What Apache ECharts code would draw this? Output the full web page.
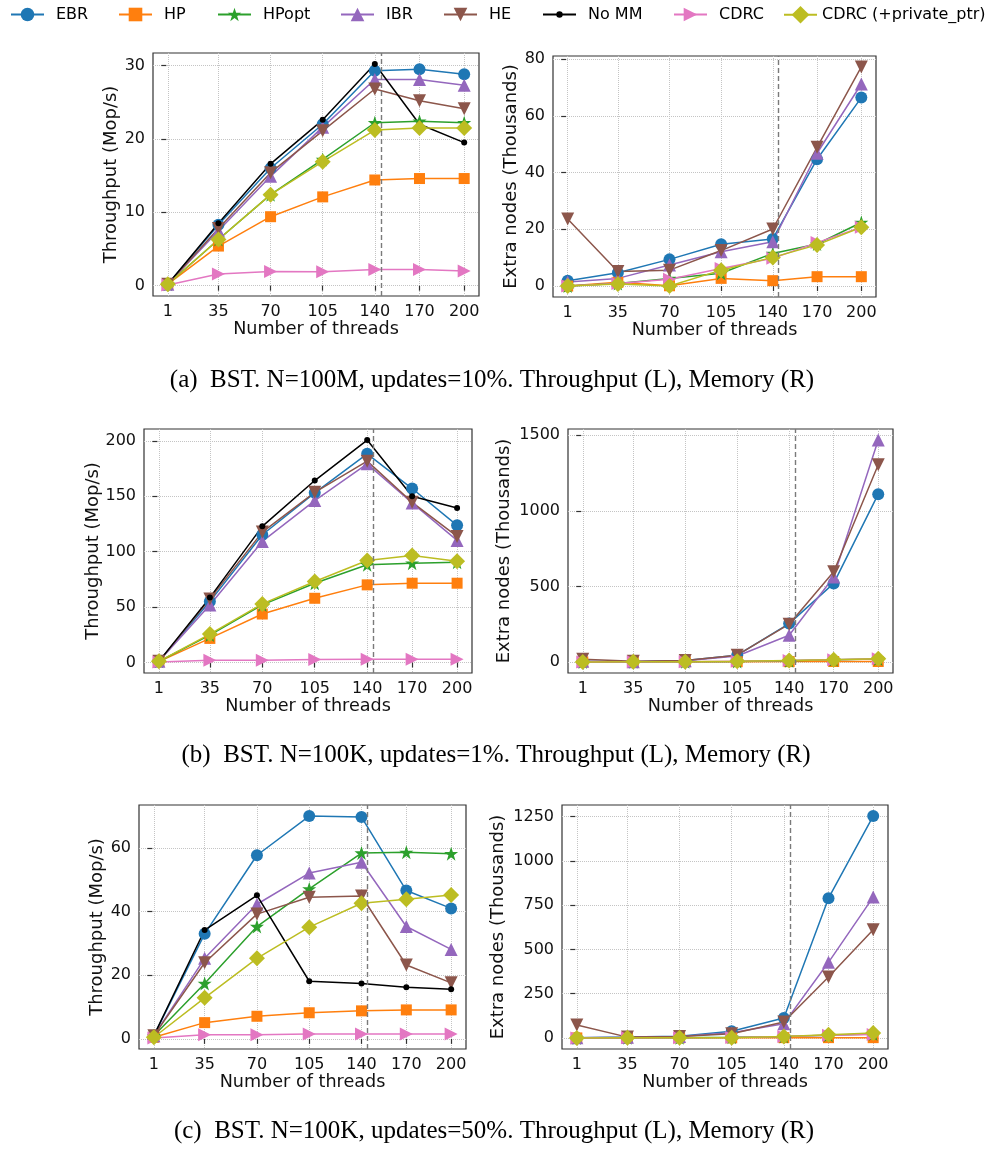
<!DOCTYPE html>
<html>
<head>
<meta charset="utf-8">
<script src="https://cdn.jsdelivr.net/npm/echarts@6/dist/echarts.min.js"></script>
<style>
html, body { margin: 0; padding: 0; background: #ffffff; }
#chart { width: 985px; height: 1149px; }
</style>
</head>
<body>
<div id="chart"></div>
<script>
// ---- data ----
const threads = [1, 35, 70, 105, 140, 170, 200];
const coreMark = 144;
const schemes = ['EBR', 'HP', 'HPopt', 'IBR', 'HE', 'No MM', 'CDRC', 'CDRC (+private_ptr)'];

// (a) BST, N=100M, updates=10%
const tputA = {
  'EBR':   [0.2, 8.3, 16.0, 22.0, 29.3, 29.5, 28.8],
  'HP':    [0.2, 5.4, 9.4, 12.1, 14.4, 14.6, 14.6],
  'HPopt': [0.2, 6.3, 12.4, 17.2, 22.2, 22.4, 22.2],
  'IBR':   [0.2, 7.5, 14.9, 21.6, 28.1, 28.1, 27.3],
  'HE':    [0.2, 7.8, 15.4, 21.1, 26.8, 25.2, 24.1],
  'No MM': [0.2, 8.5, 16.6, 22.6, 30.2, 22.0, 19.5],
  'CDRC':  [0.1, 1.6, 1.95, 1.9, 2.2, 2.2, 2.0],
  'CDRC (+private_ptr)': [0.2, 6.3, 12.4, 16.9, 21.2, 21.5, 21.5]
};
const memA = {
  'EBR':   [1.9, 4.7, 9.4, 14.7, 16.6, 44.7, 66.4],
  'HP':    [0.0, 1.3, 0.1, 2.7, 1.9, 3.3, 3.3],
  'HPopt': [0.0, 0.9, 2.7, 4.5, 11.5, 14.8, 22.4],
  'IBR':   [1.4, 2.7, 7.4, 12.1, 15.6, 46.8, 71.2],
  'HE':    [23.6, 5.1, 5.6, 12.5, 20.1, 48.9, 77.2],
  'CDRC':  [0.0, 0.9, 2.4, 6.2, 9.8, 15.3, 20.7],
  'CDRC (+private_ptr)': [0.0, 0.7, 0.0, 5.6, 10.1, 14.5, 20.7]
};

// (b) BST, N=100K, updates=1%
const tputB = {
  'EBR':   [1.0, 54.9, 115.2, 153.0, 188.2, 156.9, 123.7],
  'HP':    [0.8, 21.7, 43.7, 57.9, 70.0, 71.5, 71.5],
  'HPopt': [1.0, 24.7, 51.9, 71.5, 88.1, 89.6, 90.5],
  'IBR':   [1.0, 51.9, 109.2, 146.0, 179.2, 143.9, 110.1],
  'HE':    [1.0, 57.3, 117.6, 153.5, 181.6, 144.5, 113.7],
  'No MM': [1.0, 58.5, 122.8, 164.1, 200.6, 149.9, 139.4],
  'CDRC':  [0.5, 2.1, 2.1, 2.7, 3.0, 3.0, 3.0],
  'CDRC (+private_ptr)': [1.0, 25.6, 52.8, 73.0, 92.0, 96.5, 91.4]
};
const memB = {
  'EBR':   [3, 1, 10, 45, 254, 520, 1110],
  'HP':    [0.5, 1, 1.5, 2, 2.5, 3, 3],
  'HPopt': [0.5, 1, 2, 4, 8, 14, 20],
  'IBR':   [5, 2, 8, 40, 177, 562, 1468],
  'HE':    [18, 5, 10, 45, 250, 597, 1305],
  'CDRC':  [0.5, 1, 2, 5, 9, 15, 21],
  'CDRC (+private_ptr)': [0.5, 1, 1.5, 5, 10, 15, 22]
};

// (c) BST, N=100K, updates=50%
const tputC = {
  'EBR':   [1.0, 33.0, 57.7, 70.0, 69.7, 46.6, 41.0],
  'HP':    [0.5, 5.1, 7.1, 8.2, 8.8, 9.1, 9.1],
  'HPopt': [1.0, 17.4, 35.3, 47.1, 58.4, 58.6, 58.2],
  'IBR':   [1.0, 25.3, 42.3, 52.1, 55.5, 35.3, 28.1],
  'HE':    [1.0, 23.9, 39.2, 44.5, 44.9, 23.2, 17.6],
  'No MM': [1.0, 34.2, 45.1, 18.1, 17.4, 16.2, 15.6],
  'CDRC':  [0.3, 1.3, 1.3, 1.5, 1.5, 1.5, 1.5],
  'CDRC (+private_ptr)': [0.5, 12.9, 25.3, 35.1, 42.6, 43.9, 45.2]
};
const memC = {
  'EBR':   [2, 5, 10, 38, 113, 789, 1252],
  'HP':    [0.5, 0.5, 1, 1, 2, 2, 2],
  'HPopt': [0.5, 1, 2, 4, 9, 16, 22],
  'IBR':   [2, 4, 8, 30, 81, 427, 795],
  'HE':    [73, 5, 8, 24, 90, 344, 611],
  'CDRC':  [0.5, 1, 2, 3, 8, 15, 20],
  'CDRC (+private_ptr)': [0.5, 1, 1.5, 2, 9, 19, 28]
};

const yTicksTputA = [0, 10, 20, 30];
const yTicksMemA = [0, 20, 40, 60, 80];
const yTicksTputB = [0, 50, 100, 150, 200];
const yTicksMemB = [0, 500, 1000, 1500];
const yTicksTputC = [0, 20, 40, 60];
const yTicksMemC = [0, 250, 500, 750, 1000, 1250];

const xName = 'Number of threads';
const tputName = 'Throughput (Mop/s)';
const memName = 'Extra nodes (Thousands)';
const captions = [
  '(a)  BST. N=100M, updates=10%. Throughput (L), Memory (R)',
  '(b)  BST. N=100K, updates=1%. Throughput (L), Memory (R)',
  '(c)  BST. N=100K, updates=50%. Throughput (L), Memory (R)'
];

// ---- styles ----
const STAR = 'path://M50,0 L61.8,35.1 L98.9,35.1 L68.9,57.1 L80.3,92.7 L50,70.7 L19.7,92.7 L31.1,57.1 L1.1,35.1 L38.2,35.1 Z';
const palette = {
  'EBR': '#1f77b4', 'HP': '#ff7f0e', 'HPopt': '#2ca02c', 'IBR': '#9467bd',
  'HE': '#8c564b', 'No MM': '#000000', 'CDRC': '#e377c2', 'CDRC (+private_ptr)': '#bcbd22'
};
const markers = {
  'EBR':   { symbol: 'circle', size: 12, rotate: 0, legendH: 17 },
  'HP':    { symbol: 'rect', size: 11, rotate: 0, legendH: 17 },
  'HPopt': { symbol: STAR, size: 14, rotate: 0, legendH: 17 },
  'IBR':   { symbol: 'triangle', size: 13, rotate: 0, legendH: 17 },
  'HE':    { symbol: 'triangle', size: 13, rotate: 180, legendH: 17 },
  'No MM': { symbol: 'circle', size: 6, rotate: 0, legendH: 8 },
  'CDRC':  { symbol: 'triangle', size: 13, rotate: -90, legendH: 17 },
  'CDRC (+private_ptr)': { symbol: 'diamond', size: 16, rotate: 0, legendH: 22 }
};
const legendLeft = [10, 118, 217, 340, 443, 542, 673, 783];
const legendPad = [7, 7, 7, 7, 7, 7, 7, 0];
const legendTop = [6.5, 6.5, 6.5, 6.5, 6.5, 6.5, 6.5, 6];

const frameColor = '#333333';
const textColor = '#111111';

const panels = [
  { data: tputA, yTicks: yTicksTputA, yName: tputName, nameGap: 33, grid: { left: 153, top: 53, width: 326, height: 243 } },
  { data: memA,  yTicks: yTicksMemA,  yName: memName,  nameGap: 33, grid: { left: 553, top: 56, width: 323, height: 241 } },
  { data: tputB, yTicks: yTicksTputB, yName: tputName, nameGap: 42, grid: { left: 144, top: 429, width: 328, height: 244 } },
  { data: memB,  yTicks: yTicksMemB,  yName: memName,  nameGap: 55, grid: { left: 568, top: 429, width: 325, height: 244 } },
  { data: tputC, yTicks: yTicksTputC, yName: tputName, nameGap: 33, grid: { left: 139, top: 805, width: 327, height: 244 } },
  { data: memC,  yTicks: yTicksMemC,  yName: memName,  nameGap: 55, grid: { left: 562, top: 805, width: 326, height: 244 } }
];
const captionPos = [[492, 380], [496, 755], [494, 1131]];

// matplotlib-style 5% margins around the data range
function paddedRange(lo, hi) {
  const pad = (hi - lo) * 0.05;
  return [lo - pad, hi + pad];
}

const grids = [], xAxes = [], yAxes = [], series = [];
const xRange = paddedRange(Math.min(...threads), Math.max(...threads));
const plain = v => String(v);

panels.forEach((p, i) => {
  grids.push(Object.assign({ show: true, borderColor: frameColor, borderWidth: 1.2, backgroundColor: 'transparent', containLabel: false }, p.grid));
  const all = [].concat(...Object.values(p.data));
  const yRange = paddedRange(Math.min(...all), Math.max(...all));

  xAxes.push({
    type: 'value', gridIndex: i, min: xRange[0], max: xRange[1],
    name: xName, nameLocation: 'middle', nameGap: 23,
    nameTextStyle: { fontSize: 17.6, color: textColor, fontFamily: 'DejaVu Sans' },
    axisLine: { show: false },
    axisTick: { show: true, inside: false, length: 5, lineStyle: { color: frameColor, width: 1.2 }, customValues: threads },
    axisLabel: { fontSize: 16, color: textColor, margin: 8, fontFamily: 'DejaVu Sans', customValues: threads, formatter: plain },
    splitLine: { show: true, lineStyle: { type: 'dotted', color: '#c4c4c4', width: 1 } }
  });
  yAxes.push({
    type: 'value', gridIndex: i, min: yRange[0], max: yRange[1],
    name: p.yName, nameLocation: 'middle', nameGap: p.nameGap, nameRotate: 90,
    nameTextStyle: { fontSize: 18, color: textColor, fontFamily: 'DejaVu Sans' },
    nameMoveOverlap: false,
    axisLine: { show: false },
    axisTick: { show: true, inside: false, length: 5, lineStyle: { color: frameColor, width: 1.2 }, customValues: p.yTicks },
    axisLabel: { fontSize: 16, color: textColor, margin: 8, fontFamily: 'DejaVu Sans', customValues: p.yTicks, formatter: plain },
    splitLine: { show: true, lineStyle: { type: 'dotted', color: '#c4c4c4', width: 1 } }
  });

  let first = true;
  schemes.forEach(name => {
    const vals = p.data[name];
    if (!vals) return;
    const m = markers[name];
    const s = {
      type: 'line', name: name, xAxisIndex: i, yAxisIndex: i,
      data: threads.map((t, k) => [t, vals[k]]),
      symbol: m.symbol, symbolSize: m.size, symbolRotate: m.rotate,
      showSymbol: true, showAllSymbol: true, clip: false,
      color: palette[name],
      lineStyle: { width: 1.5, color: palette[name] },
      itemStyle: { color: palette[name], borderWidth: 0 },
      emphasis: { disabled: true },
      silent: true
    };
    if (first) {
      s.markLine = {
        silent: true, symbol: ['none', 'none'], label: { show: false },
        lineStyle: { type: [5, 3], color: '#7a7a7a', width: 1.4 },
        emphasis: { disabled: true },
        data: [{ xAxis: coreMark }]
      };
      first = false;
    }
    series.push(s);
  });
});

const legends = schemes.map((name, k) => ({
  data: [name],
  left: legendLeft[k],
  top: legendTop[k],
  padding: 0,
  itemWidth: 33,
  itemHeight: markers[name].legendH,
  selectedMode: false,
  textStyle: { fontSize: 16, color: '#000', fontFamily: 'DejaVu Sans', padding: [0, 0, 0, legendPad[k]] }
}));

const graphics = captions.map((text, k) => ({
  type: 'text', x: captionPos[k][0], y: captionPos[k][1],
  style: {
    text: text, fill: '#000',
    font: '25px "Liberation Serif"',
    align: 'center', verticalAlign: 'middle'
  }
}));

const chart = echarts.init(document.getElementById('chart'), null, { renderer: 'canvas' });
chart.setOption({
  animation: false,
  backgroundColor: '#ffffff',
  textStyle: { fontFamily: 'DejaVu Sans' },
  legend: legends,
  grid: grids,
  xAxis: xAxes,
  yAxis: yAxes,
  series: series,
  graphic: graphics
});
</script>
</body>
</html>
